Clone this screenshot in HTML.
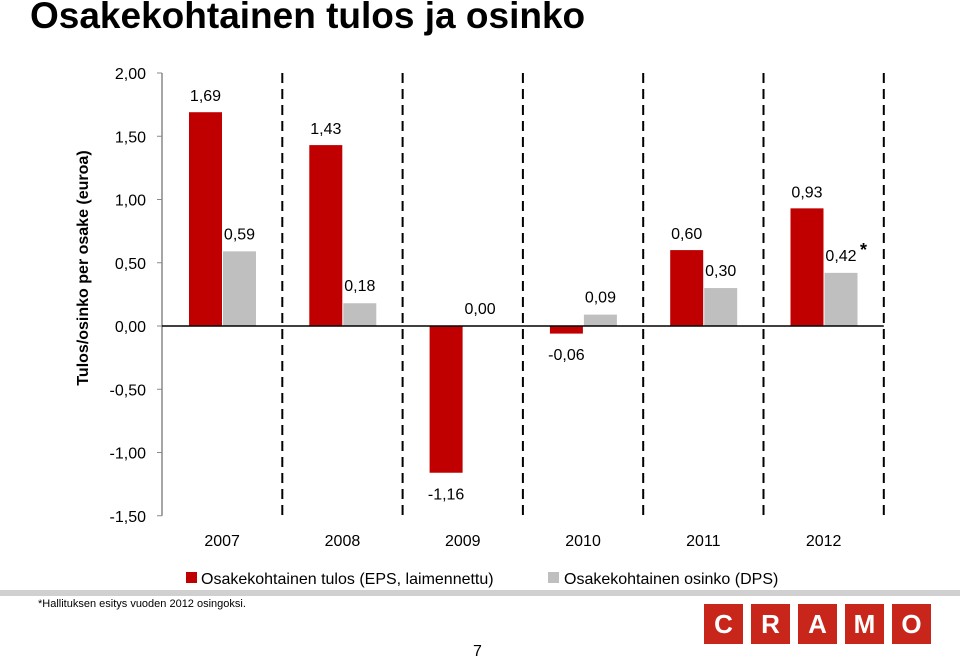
<!DOCTYPE html>
<html><head><meta charset="utf-8"><style>
body{margin:0;background:#fff;width:960px;height:661px;overflow:hidden;position:relative;font-family:"Liberation Sans",sans-serif}
</style></head><body>
<div style="position:absolute;left:30px;top:-5px;font-size:37px;font-weight:bold;color:#000;white-space:nowrap">Osakekohtainen tulos ja osinko</div>
<div style="position:absolute;left:0;top:590px;width:960px;height:6px;background:#d0d0d0"></div>
<div style="position:absolute;left:38px;top:598px;font-size:11px;color:#000">*Hallituksen esitys vuoden 2012 osingoksi.</div>
<div style="position:absolute;left:473px;top:643px;font-size:16px">7</div>
<div style="position:absolute;left:704px;top:604px;display:flex;gap:8px">
<div style="width:39px;height:40px;background:#c8261b;color:#fff;font:bold 26px 'Liberation Sans';text-align:center;line-height:40px">C</div>
<div style="width:39px;height:40px;background:#c8261b;color:#fff;font:bold 26px 'Liberation Sans';text-align:center;line-height:40px">R</div>
<div style="width:39px;height:40px;background:#c8261b;color:#fff;font:bold 26px 'Liberation Sans';text-align:center;line-height:40px">A</div>
<div style="width:39px;height:40px;background:#c8261b;color:#fff;font:bold 26px 'Liberation Sans';text-align:center;line-height:40px">M</div>
<div style="width:39px;height:40px;background:#c8261b;color:#fff;font:bold 26px 'Liberation Sans';text-align:center;line-height:40px">O</div>
</div>
<svg id="chart" width="960" height="661" style="position:absolute;left:0;top:0" xmlns="http://www.w3.org/2000/svg" font-family="Liberation Sans, sans-serif"></svg>
<script>
const years=["2007","2008","2009","2010","2011","2012"];
const eps=[1.69,1.43,-1.16,-0.06,0.60,0.93];
const dps=[0.59,0.18,0.00,0.09,0.30,0.42];
const epsLabels=["1,69","1,43","-1,16","-0,06","0,60","0,93"];
const dpsLabels=["0,59","0,18","0,00","0,09","0,30","0,42"];
const yTicks=[2,1.5,1,0.5,0,-0.5,-1,-1.5];
const yTickLabels=["2,00","1,50","1,00","0,50","0,00","-0,50","-1,00","-1,50"];
const svg=document.getElementById('chart');
const NS="http://www.w3.org/2000/svg";
const x0=162,gw=120.3,y0=326,ppu=126.5;
const y=v=>y0-v*ppu;
const gx=i=>x0+i*gw;
function mk(t,a,txt){const e=document.createElementNS(NS,t);for(const k in a)e.setAttribute(k,a[k]);if(txt!=null)e.textContent=txt;svg.appendChild(e);return e;}
let ax=mk('line',{x1:x0,y1:y(2),x2:x0,y2:y(-1.5),stroke:'#888','stroke-width':1.5});

yTicks.forEach((v,i)=>{
 let t=mk('line',{x1:x0-5,y1:y(v),x2:x0,y2:y(v),stroke:'#888'});
 
 let l=mk('text',{x:146,y:y(v)+6,'text-anchor':'end','font-size':16},yTickLabels[i]);
 
});
let yt=mk('text',{transform:'translate(88,268) rotate(-90)','text-anchor':'middle','font-size':16,'font-weight':'bold'},'Tulos/osinko per osake (euroa)');

for(let i=1;i<=years.length;i++){
 let d=mk('line',{x1:gx(i),y1:y(2),x2:gx(i),y2:y(-1.5),stroke:'#000','stroke-width':2,'stroke-dasharray':'10,6'});
 
}
years.forEach((yr,i)=>{
 const bx=gx(i)+27,bw=33;
 let r=mk('rect',{x:bx,y:Math.min(y(eps[i]),y0),width:bw,height:Math.abs(y(eps[i])-y0),fill:'#c00000'});
 
 let g=mk('rect',{x:bx+bw+1,y:Math.min(y(dps[i]),y0),width:bw,height:Math.abs(y(dps[i])-y0),fill:'#bfbfbf'});
 
 let ly=eps[i]>0?y(eps[i])-11:(eps[i]<=-0.2?y(eps[i])+27:y0+34);
 let el=mk('text',{x:bx+bw/2,y:ly,'text-anchor':'middle','font-size':16},epsLabels[i]);
 
 let dl=mk('text',{x:bx+bw*1.5+1,y:y(dps[i])-12,'text-anchor':'middle','font-size':16},dpsLabels[i]);
 
 if(i===years.length-1){let s=mk('text',{x:bx+bw*1.5+20,y:y(dps[i])-17,'font-size':18,'font-weight':'bold'},'*');}
 let xl=mk('text',{x:gx(i)+gw/2,y:546,'text-anchor':'middle','font-size':16},yr);
 
});
let xa=mk('line',{x1:x0,y1:y0,x2:gx(years.length),y2:y0,stroke:'#000','stroke-width':1.5});

let lr=mk('rect',{x:186,y:572,width:11,height:11,fill:'#c00000'});
let lt=mk('text',{x:201,y:584,'font-size':16},'Osakekohtainen tulos (EPS, laimennettu)');
let gr=mk('rect',{x:548,y:572,width:11,height:11,fill:'#bfbfbf'});
let gt=mk('text',{x:564,y:584,'font-size':16},'Osakekohtainen osinko (DPS)');
</script>
</body></html>
